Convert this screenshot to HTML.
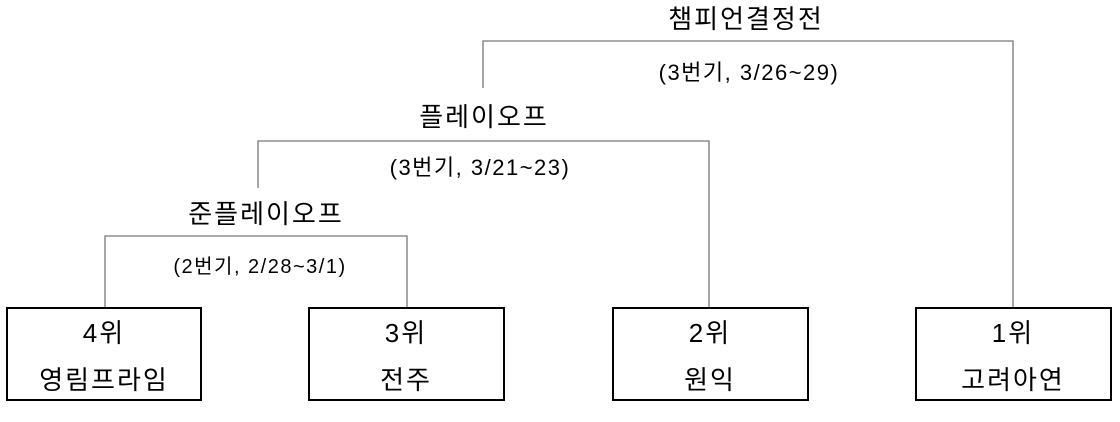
<!DOCTYPE html>
<html><head><meta charset="utf-8"><style>
html,body{margin:0;padding:0;background:#fff;width:1120px;height:422px;overflow:hidden}
svg text{font-family:"Liberation Sans","Noto Sans CJK KR",sans-serif;fill:#000;text-anchor:middle}
</style></head><body>
<svg width="1120" height="422" viewBox="0 0 1120 422" xmlns="http://www.w3.org/2000/svg">
<g stroke="#777" stroke-width="1.3" fill="none">
<polyline points="105,307 105,236 407,236 407,307"/>
<polyline points="258,188 258,141 709,141 709,307"/>
<polyline points="483,88 483,41 1013,41 1013,307"/>
</g>
<g stroke="#000" stroke-width="2" fill="#fff">
<rect x="7" y="308" width="194" height="92"/>
<rect x="309" y="308" width="195" height="92"/>
<rect x="613" y="308" width="195" height="92"/>
<rect x="916" y="308" width="195" height="92"/>
</g>
<g font-size="26" letter-spacing="2">
<text x="746" y="28">챔피언결정전</text>
<text x="484" y="126">플레이오프</text>
<text x="266" y="223">준플레이오프</text>
<text x="104" y="342">4위</text><text x="104" y="389">영림프라임</text>
<text x="406" y="342">3위</text><text x="406" y="389">전주</text>
<text x="710" y="342">2위</text><text x="710" y="389">원익</text>
<text x="1013" y="342">1위</text><text x="1013" y="389">고려아연</text>
</g>
<text x="749" y="80" font-size="22" letter-spacing="1.5">(3번기, 3/26~29)</text>
<text x="480" y="175" font-size="22" letter-spacing="1.5">(3번기, 3/21~23)</text>
<text x="260" y="273" font-size="20" letter-spacing="1.5">(2번기, 2/28~3/1)</text>
</svg>
</body></html>
